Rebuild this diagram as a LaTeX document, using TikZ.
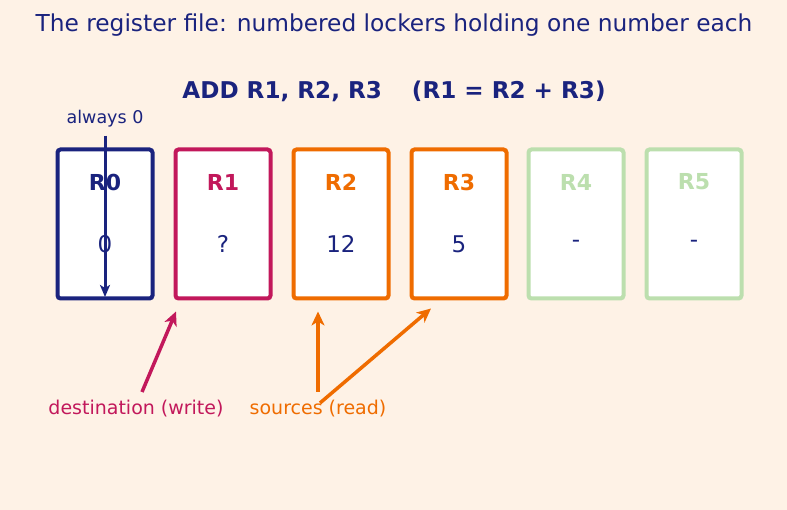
\documentclass[tikz,border=0pt]{standalone}
\usepackage{fontspec}
\setmainfont{DejaVu Sans}
\usetikzlibrary{arrows.meta, positioning}
\definecolor{bgcol}{HTML}{FEF2E6}
\definecolor{navy}{HTML}{1A237E}
\definecolor{dstcol}{HTML}{C2185B}
\definecolor{srccol}{HTML}{EF6C00}
\definecolor{unused}{HTML}{BCDFAE}

\begin{document}
\begin{tikzpicture}[x=1pt, y=-1pt, every node/.style={align=center, inner sep=0pt},
  locker/.style={draw, line width=4pt, fill=white, rounded corners=3pt, minimum width=95pt, minimum height=149pt},
  regname/.style={font=\fontsize{22}{26}\selectfont\bfseries},
  regval/.style={font=\fontsize{23}{27}\selectfont, text=navy},
  note/.style={font=\fontsize{19}{22}\selectfont},
  pointer/.style={line width=3.5pt, -{Stealth[length=14pt, width=13pt, inset=4pt]}}]
\fill[bgcol] (0,0) rectangle (787,510);
\useasboundingbox (0,0) rectangle (787,510);
\node[text=navy, font=\fontsize{23.3}{28}\selectfont] (title) at (394,25) {The register file: numbered lockers holding one number each};
\node[text=navy, font=\fontsize{23.1}{28}\selectfont\bfseries] (instr) at (394,91) {ADD R1, R2, R3\hspace{1.3em}(R1 = R2 + R3)};
% the six lockers
\node[locker, draw=navy] (r0) at (105,224) {};
\node[locker, draw=dstcol] (r1) at (223,224) {};
\node[locker, draw=srccol] (r2) at (341,224) {};
\node[locker, draw=srccol] (r3) at (459,224) {};
\node[locker, draw=unused] (r4) at (576,224) {};
\node[locker, draw=unused] (r5) at (694,224) {};
\node[regname, text=navy] at (105,182) {R0};
\node[regname, text=dstcol] at (223,182) {R1};
\node[regname, text=srccol] at (341,182) {R2};
\node[regname, text=srccol] at (459,182) {R3};
\node[regname, text=unused] at (576,182) {R4};
\node[regname, text=unused] at (694,182) {R5};
\node[regval] at (105,244) {0};
\node[regval] at (223,244) {?};
\node[regval] at (341,244) {12};
\node[regval] at (459,244) {5};
\node[regval] at (576,244) {-};
\node[regval] at (694,244) {-};
% labels and pointers
\node[note, font=\fontsize{17.5}{21}\selectfont, text=navy] (zero) at (105,119) {always 0};
\coordinate (zerotip) at (105,297);
\draw[navy, line width=3pt, -{Stealth[length=12pt, width=10pt, inset=3pt]}] (zero.south)++(0,8) -- (zerotip);
\node[note, text=dstcol] (dst) at (136,409) {destination (write)};
\node[note, text=srccol] (src) at (318,409) {sources (read)};
\coordinate (dstfoot) at (142,392);
\coordinate (srcfoot) at (318,392);
\coordinate (srcfoot2) at (320,403);
\draw[pointer, dstcol] (dstfoot) -- ([xshift=-47pt, yshift=-11pt]r1.south);
\draw[pointer, srccol] (srcfoot) -- ([xshift=-23pt, yshift=-11pt]r2.south);
\draw[pointer, srccol] (srcfoot2) -- ([xshift=-28pt, yshift=-8pt]r3.south);
\end{tikzpicture}
\end{document}
